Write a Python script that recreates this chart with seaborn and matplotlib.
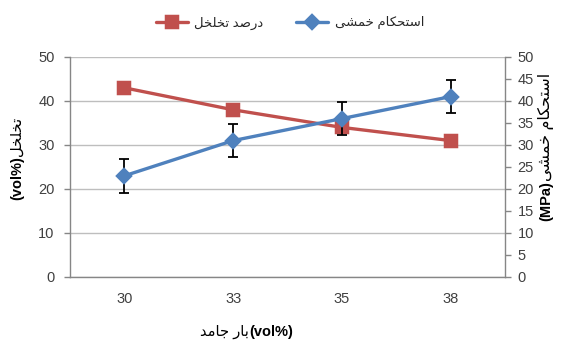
import numpy as np
import pandas as pd
import seaborn as sns
import matplotlib.pyplot as plt
from matplotlib.ticker import MultipleLocator, FixedLocator

# Data
solid_load = ['30', '33', '35', '38']
porosity = [43, 38, 34, 31]
strength = [23, 31, 36, 41]
strength_err = [3.8, 3.8, 3.8, 3.8]

# Labels (Persian)
lbl_porosity = 'درصد تخلخل'
lbl_strength = 'استحکام خمشی'
lbl_left = 'تخلخل'
lbl_right = 'استحکام خمشی'
lbl_x = 'بار جامد'

# Minimal Persian shaping (matplotlib has no shaping / bidi)
FORMS = {
    'ا': ('\uFE8D', '\uFE8E', None, None),
    'د': ('\uFEA9', '\uFEAA', None, None),
    'ر': ('\uFEAD', '\uFEAE', None, None),
    'ب': ('\uFE8F', '\uFE90', '\uFE91', '\uFE92'),
    'ت': ('\uFE95', '\uFE96', '\uFE97', '\uFE98'),
    'ج': ('\uFE9D', '\uFE9E', '\uFE9F', '\uFEA0'),
    'ح': ('\uFEA1', '\uFEA2', '\uFEA3', '\uFEA4'),
    'خ': ('\uFEA5', '\uFEA6', '\uFEA7', '\uFEA8'),
    'س': ('\uFEB1', '\uFEB2', '\uFEB3', '\uFEB4'),
    'ش': ('\uFEB5', '\uFEB6', '\uFEB7', '\uFEB8'),
    'ص': ('\uFEB9', '\uFEBA', '\uFEBB', '\uFEBC'),
    'ل': ('\uFEDD', '\uFEDE', '\uFEDF', '\uFEE0'),
    'م': ('\uFEE1', '\uFEE2', '\uFEE3', '\uFEE4'),
    'ک': ('\uFB8E', '\uFB8F', '\uFB90', '\uFB91'),
    'ی': ('\uFBFC', '\uFBFD', '\uFBFE', '\uFBFF'),
}


def fa(text):
    out = []
    for i, ch in enumerate(text):
        if ch not in FORMS:
            out.append(ch)
            continue
        prev = text[i - 1] if i > 0 else None
        nxt = text[i + 1] if i + 1 < len(text) else None
        dual = FORMS[ch][2] is not None
        join_prev = prev in FORMS and FORMS[prev][2] is not None
        join_next = dual and nxt in FORMS
        iso, fin, ini, med = FORMS[ch]
        if join_prev and join_next:
            out.append(med)
        elif join_prev:
            out.append(fin)
        elif join_next:
            out.append(ini)
        else:
            out.append(iso)
    return ''.join(out)[::-1]


sns.set_style('white')
plt.rcParams['font.family'] = ['Liberation Sans', 'DejaVu Sans']

df = pd.DataFrame({'load': solid_load, 'porosity': porosity, 'strength': strength})

red = '#C0504D'
blue = '#4F81BD'
axis_gray = '#868686'
text_col = '#404040'

fig = plt.figure(figsize=(5.62, 3.43), dpi=100)
ax1 = fig.add_axes([70 / 562, 1 - 277 / 343, 435 / 562, 220 / 343])
ax2 = ax1.twinx()

sns.pointplot(data=df, x='load', y='porosity', ax=ax1, color=red, markers='s',
              markersize=8.5, linewidth=2.4, errorbar=None, label=fa(lbl_porosity))
sns.pointplot(data=df, x='load', y='strength', ax=ax2, color=blue, markers='D',
              markersize=7.5, linewidth=2.4, errorbar=None, label=fa(lbl_strength))
ax2.errorbar(np.arange(len(solid_load)), strength, yerr=strength_err, fmt='none',
             ecolor='black', elinewidth=1.3, capsize=3.5, capthick=1.3, zorder=1.5)

for ax, step, pad in ((ax1, 10, 7), (ax2, 5, 5)):
    ax.set_ylim(0, 50)
    ax.yaxis.set_major_locator(MultipleLocator(step))
    ax.set_xlim(-0.5, len(solid_load) - 0.5)
    ax.set_xlabel('')
    ax.set_ylabel('')
    for s in ax.spines.values():
        s.set_color(axis_gray)
        s.set_linewidth(1)
    ax.spines['top'].set_visible(False)
    ax.tick_params(axis='y', length=4, width=1, color=axis_gray, labelsize=10.5,
                   labelcolor=text_col, pad=pad)
    if legend := ax.get_legend():
        legend.remove()

ax1.spines['right'].set_visible(False)
ax2.spines['left'].set_visible(False)
ax2.spines['bottom'].set_visible(False)

# gridlines at left major ticks
ax1.yaxis.grid(True, color='#BEBEBE', linewidth=1)
ax1.xaxis.grid(False)
ax1.get_ygridlines()[-1].set_visible(False)
ax1.set_axisbelow(True)

# category tick marks at boundaries
ax1.tick_params(axis='x', which='major', length=0, labelsize=10.5, labelcolor=text_col, pad=11)
ax1.xaxis.set_minor_locator(FixedLocator(np.arange(-0.5, len(solid_load), 1.0)))
ax1.tick_params(axis='x', which='minor', length=4, width=1, color=axis_gray)

# axis titles (Persian part normal, unit part bold)
t_left = fig.text(17 / 562, 1 - 117 / 343, fa(lbl_left), rotation=90, ha='center', va='top',
                  fontsize=10.5, color='black')
ax1.annotate('(vol%)', xy=(0.5, 0), xycoords=t_left, rotation=90, ha='center', va='top',
             fontsize=10.5, fontweight='bold', color='black')

t_right = fig.text(546 / 562, 1 - 73 / 343, fa(lbl_right), rotation=90, ha='center', va='top',
                   fontsize=11.5, color='black')
ax1.annotate('(MPa)', xy=(0.5, 0), xycoords=t_right, rotation=90, ha='center', va='top',
             fontsize=10.5, fontweight='bold', color='black')

t_x = fig.text(200 / 562, 1 - 332 / 343, fa(lbl_x), ha='left', va='center',
               fontsize=10.5, color='black')
ax1.annotate('(vol%)', xy=(1, 0.5), xycoords=t_x, ha='left', va='center',
             fontsize=10.5, fontweight='bold', color='black')

h1, l1 = ax1.get_legend_handles_labels()
h2, l2 = ax2.get_legend_handles_labels()
fig.legend(h1 + h2, l1 + l2, loc='center', bbox_to_anchor=(290 / 562, 1 - 23 / 343),
           ncol=2, frameon=False, fontsize=9.5, handlelength=2.4, columnspacing=2.5,
           handletextpad=0.5)

fig.savefig('out.png', dpi=100)
